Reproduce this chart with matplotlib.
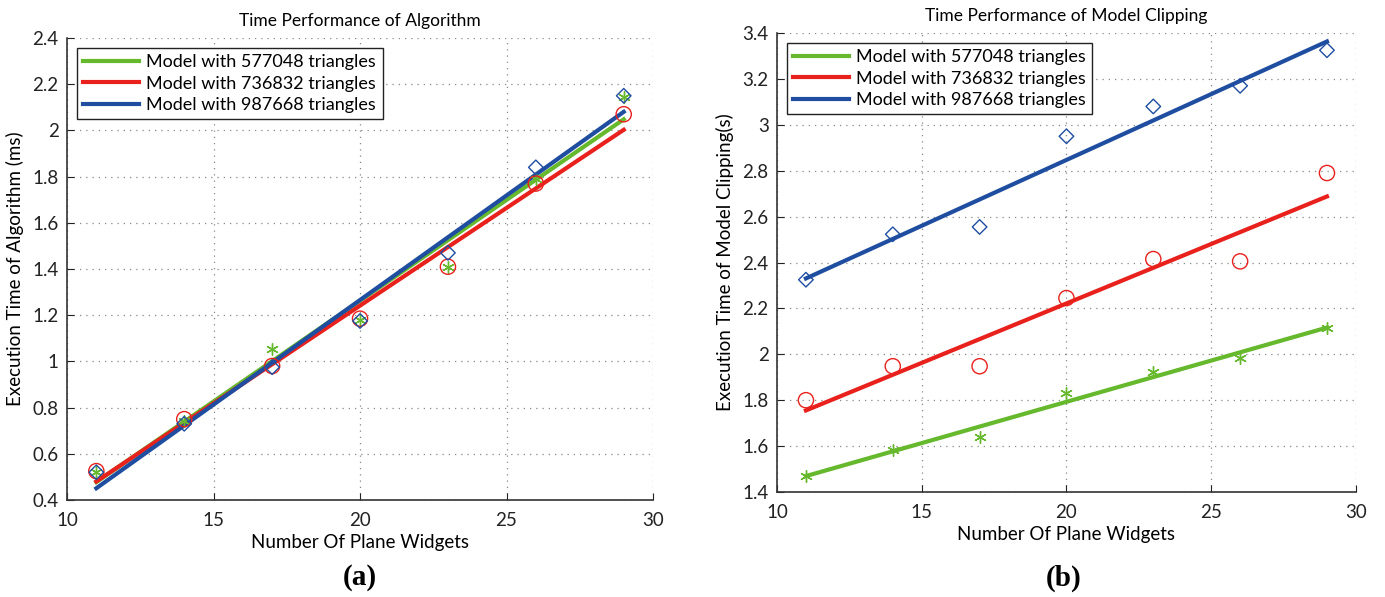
import numpy as np
import matplotlib
matplotlib.use("Agg")
import matplotlib.pyplot as plt

plt.rcParams['font.family'] = ['Lato', 'DejaVu Sans']

# plane widget counts (shared x values)
widgets = [11, 14, 17, 20, 23, 26, 29]
series_labels = ['Model with 577048 triangles',
                 'Model with 736832 triangles',
                 'Model with 987668 triangles']

# (a) execution time of algorithm, ms
algo_577048 = [0.52, 0.74, 1.055, 1.18, 1.41, 1.79, 2.145]
algo_736832 = [0.525, 0.75, 0.98, 1.185, 1.41, 1.77, 2.07]
algo_987668 = [0.52, 0.73, 0.975, 1.175, 1.47, 1.84, 2.15]

# (b) execution time of model clipping, s
clip_577048 = [1.47, 1.585, 1.64, 1.83, 1.925, 1.985, 2.115]
clip_736832 = [1.80, 1.948, 1.948, 2.245, 2.415, 2.405, 2.79]
clip_987668 = [2.325, 2.523, 2.555, 2.95, 3.08, 3.17, 3.325]

colors = ['#66b82c', '#e8211d', '#1f4ea1']
markers = ['*', 'o', 'D']


def draw_panel(ax, series, title, ylabel, ylim, yticks):
    x = np.array(widgets)
    for ys, col, mk, lab in zip(series, colors, markers, series_labels):
        ys = np.array(ys)
        k, b = np.polyfit(x, ys, 1)  # least squares line, like matlab's fit
        ax.plot(x, k * x + b, color=col, lw=3, label=lab, zorder=3)
        if mk == 'D':
            ax.scatter(x, ys, marker='D', s=55, facecolors='none', edgecolors=col,
                       linewidths=1.0, zorder=4)
        elif mk == 'o':
            ax.scatter(x, ys, marker='o', s=120, facecolors='none', edgecolors=col,
                       linewidths=1.0, zorder=4)
        else:
            ax.scatter(x, ys, marker=(6, 2, 0), s=70, color=col, linewidths=1.0, zorder=4)
    ax.set_xlim(10, 30)
    ax.set_ylim(*ylim)
    ax.set_xticks([10, 15, 20, 25, 30])
    ax.set_yticks(yticks)
    ax.set_yticklabels(['%g' % t for t in yticks])
    ax.grid(True, linestyle=(0, (1, 4)), color='#888888', lw=0.9)
    ax.spines['top'].set_visible(False)
    ax.spines['right'].set_visible(False)
    for sp in ('left', 'bottom'):
        ax.spines[sp].set_color('#333333')
        ax.spines[sp].set_linewidth(1.2)
    ax.tick_params(direction='in', length=5, labelsize=13.5, colors='#222222')
    ax.tick_params(axis='x', pad=9)
    ax.tick_params(axis='y', pad=6)
    ax.set_title(title, fontsize=12.5, pad=9)
    ax.set_xlabel('Number Of Plane Widgets', fontsize=13.5, labelpad=3)
    ax.set_ylabel(ylabel, fontsize=13.5, labelpad=6)
    leg = ax.legend(loc='upper left', fontsize=13, fancybox=False, framealpha=1,
                    edgecolor='#222222', handlelength=3.1, borderaxespad=0.55,
                    labelspacing=0.3, handletextpad=0.4, borderpad=0.35)
    leg.get_frame().set_linewidth(1.0)


fig = plt.figure(figsize=(13.85, 5.97), dpi=100)
ax1 = fig.add_axes([0.0484, 0.1625, 0.4231, 0.7738])
ax2 = fig.add_axes([0.561, 0.1759, 0.418, 0.7688])

draw_panel(ax1, [algo_577048, algo_736832, algo_987668],
           'Time Performance of Algorithm', 'Execution Time of Algorithm (ms)',
           (0.4, 2.4), [0.4, 0.6, 0.8, 1.0, 1.2, 1.4, 1.6, 1.8, 2.0, 2.2, 2.4])
draw_panel(ax2, [clip_577048, clip_736832, clip_987668],
           'Time Performance of Model Clipping', 'Execution Time of Model Clipping(s)',
           (1.4, 3.4), [1.4, 1.6, 1.8, 2.0, 2.2, 2.4, 2.6, 2.8, 3.0, 3.2, 3.4])

fig.text(0.26, 0.032, '(a)', fontsize=21, fontweight='bold', family='Liberation Serif',
         ha='center', va='center')
fig.text(0.768, 0.032, '(b)', fontsize=21, fontweight='bold', family='Liberation Serif',
         ha='center', va='center')

fig.savefig('out.png', dpi=100)
